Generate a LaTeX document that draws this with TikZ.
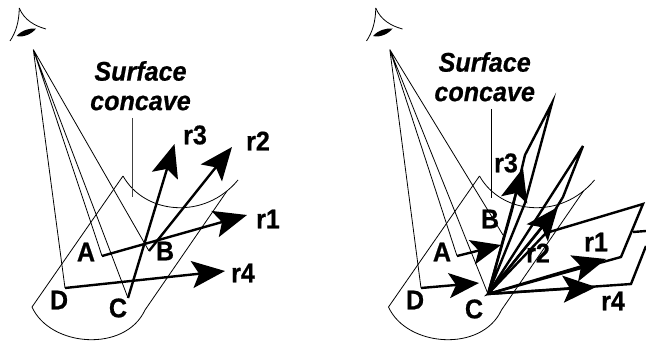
\documentclass[tikz,border=0pt]{standalone}
\usepackage{fontspec}
\setmainfont[FakeStretch=0.93,BoldFeatures={FakeBold=0.6},BoldItalicFeatures={FakeBold=0.6}]{Liberation Sans}
\usetikzlibrary{arrows.meta}
\tikzset{
  thinl/.style={line width=0.8pt,black},
  thickl/.style={line width=2.4pt,black,line join=miter},
  arr/.style={line width=2.4pt,black,-{Stealth[length=33pt,width=27pt,inset=7pt]}},
  smallarr/.style={line width=2.4pt,black,-{Stealth[length=30pt,width=25pt,inset=7pt]}},
  lab/.style={font=\fontsize{27}{27}\selectfont\bfseries,inner sep=0pt},
  captext/.style={font=\fontsize{27}{27}\selectfont\bfseries\itshape,inner sep=0pt}
}
\newcommand{\eyepic}[1]{%
  \begin{scope}[shift={(#1,0)}]
    \draw[thinl] (19.3,8) .. controls (24,20) and (35,26) .. (46,29);
    \draw[thinl] (19.3,8) .. controls (19,22) and (16,32) .. (10,41);
    \fill[black] (16.5,36) .. controls (22,30) and (30,28) .. (36,28.5) .. controls (33,33) and (24,38) .. (16.5,36) -- cycle;
    \draw[thinl] (123,176) -- (32,307)
      .. controls (50,347) and (125,353) .. (145,310)
      -- (227,191);
    \draw[thinl] (123,176) .. controls (145,215) and (205,220) .. (238,180);
  \end{scope}}
\begin{document}
\begin{tikzpicture}[x=1pt,y=-1pt]
\useasboundingbox (0,0) rectangle (646,342);
\eyepic{0}
\eyepic{356.5}
% ---- left panel
\coordinate (v1) at (33.3,49.5);
\coordinate (A1) at (102,256);
\coordinate (B1) at (149,251);
\coordinate (C1) at (128,298);
\coordinate (D1) at (65,288);
\coordinate (r1t) at (247,215);
\coordinate (r2t) at (232,147);
\coordinate (r3t) at (174.5,144);
\coordinate (r4t) at (225,271);
\coordinate (s1a) at (132,118);
\coordinate (s1b) at (132,197);
\draw[thinl] (v1)--(A1) (v1)--(B1) (v1)--(C1) (v1)--(D1);
\draw[line width=1pt,black!75] (s1a)--(s1b);
\draw[arr] (A1)--(r1t);
\draw[arr] (B1)--(r2t);
\draw[arr] (C1)--(r3t);
\draw[arr] (D1)--(r4t);
\node[captext] (sf1) at (140.5,71) {Surface};
\node[captext] (cc1) at (140.5,103) {concave};
\node[lab] (r3l) at (195,135) {r3};
\node[lab] (r2l) at (258,141) {r2};
\node[lab] (r1l) at (268,219) {r1};
\node[lab] (r4l) at (243,273) {r4};
\node[lab] (Al) at (86,252) {A};
\node[lab] (Bl) at (165,251) {B};
\node[lab] (Cl) at (118,308) {C};
\node[lab] (Dl) at (59,300) {D};
% ---- right panel
\coordinate (v2) at (389.8,49.5);
\coordinate (A2) at (457,256);
\coordinate (B2) at (503,235);
\coordinate (C2) at (488,294);
\coordinate (D2) at (421,288);
\coordinate (At) at (501,245);
\coordinate (Dt) at (479,283);
\coordinate (R1t) at (606,259);
\coordinate (R2t) at (558,207);
\coordinate (R3t) at (523,168);
\coordinate (R4t) at (596,287);
\coordinate (s2a) at (491,109);
\coordinate (s2b) at (491,198);
\draw[thinl] (v2)--(A2) (v2)--(B2) (v2)--(C2) (v2)--(D2);
\draw[line width=0.8pt,black] (s2a)--(s2b);
\draw[smallarr] (A2)--(At);
\draw[smallarr] (D2)--(Dt);
% parallelograms
\draw[thickl] (C2)--(512,210)--(525,155)--(552,103)--(525,203)--cycle;
\draw[thickl] (C2)--(583,146)--(563,197)--(552,215)--cycle;
\draw[thickl] (C2)--(546,233)--(643,204)--(621,257)--cycle;
\draw[thickl] (C2)--(631,284)--(646,246);
\draw[thickl] (633,232)--(646,231);
\draw[arr] (C2)--(R1t);
\draw[arr] (C2)--(R2t);
\draw[arr] (C2)--(R3t);
\draw[arr] (C2)--(R4t);
\node[captext] (sf2) at (484.7,62) {Surface};
\node[captext] (cc2) at (484.7,94) {concave};
\node[lab] (r3r) at (506,163) {r3};
\node[lab] (r2r) at (538,253) {r2};
\node[lab] (r1r) at (596,242) {r1};
\node[lab] (r4r) at (613,301) {r4};
\node[lab] (Ar) at (442,252) {A};
\node[lab] (Br) at (490,219) {B};
\node[lab] (Cr) at (474,309) {C};
\node[lab] (Dr) at (415,300) {D};
\end{tikzpicture}
\end{document}
